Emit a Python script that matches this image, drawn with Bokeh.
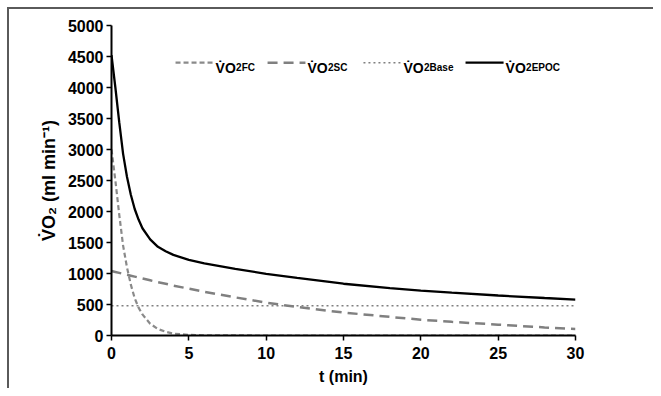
from bokeh.plotting import figure
from bokeh.embed import file_html
from bokeh.resources import INLINE
from bokeh.models import Range1d, FixedTicker
from bokeh.core.properties import value

# ---- data ----
t_min = [0, 0.25, 0.5, 0.75, 1, 1.25, 1.5, 1.75, 2, 2.5, 3, 3.5, 4, 5, 6, 8,
         10, 12, 15, 18, 20, 22, 25, 28, 30]
vo2_fc = [3000, 2500, 1950, 1450, 1100, 820, 600, 450, 340, 190, 105, 60, 30,
          10, 4, 1, 0, 0, 0, 0, 0, 0, 0, 0, 0]
vo2_sc = [1040, 1025, 1010, 995, 980, 965, 950, 935, 920, 890, 860, 835, 805,
          755, 705, 615, 530, 460, 370, 300, 255, 220, 175, 130, 105]
vo2_base = [480] * len(t_min)
vo2_epoc = [4520, 4000, 3440, 2930, 2560, 2270, 2040, 1870, 1730, 1550, 1430,
            1360, 1300, 1220, 1165, 1075, 995, 930, 835, 765, 725, 690, 645,
            605, 580]

x_ticks = [0, 5, 10, 15, 20, 25, 30]
y_ticks = [0, 500, 1000, 1500, 2000, 2500, 3000, 3500, 4000, 4500, 5000]

series_names = ["FC", "SC", "Base", "EPOC"]
series_data = [vo2_fc, vo2_sc, vo2_base, vo2_epoc]

# ---- styles ----
styles = {
    "FC": dict(line_color="#8a8a8a", line_width=2.2, line_dash="5 3"),
    "SC": dict(line_color="#808080", line_width=2.5, line_dash="10 6"),
    "Base": dict(line_color="#808080", line_width=1.6, line_dash="2 3"),
    "EPOC": dict(line_color="#000000", line_width=2.3, line_dash="solid"),
}
# legend key start/end (x, data units) and y level (layout only)
legend_x0 = [4.14, 10.09, 16.29, 22.89]
legend_x1 = [6.60, 12.54, 18.75, 25.35]
legend_y = 4400

FONT = "Liberation Sans"

p = figure(width=653, height=388, output_backend="svg", toolbar_location=None,
           x_range=Range1d(0, 30), y_range=Range1d(0, 5000),
           min_border_left=111, min_border_right=78, min_border_top=25,
           min_border_bottom=53)
p.outline_line_color = None
p.grid.grid_line_color = None
p.background_fill_color = "white"
p.border_fill_color = None
# image frame (top and left edges visible in the reference), drawn as CSS background
LINE = "#5a5a5a"
p.styles = {
    "background-color": "white",
    "background-image": ", ".join([
        "linear-gradient(to bottom, white 7px, transparent 7px)",
        "linear-gradient(to right, white 7px, transparent 7px)",
        f"linear-gradient(to right, transparent 7px, {LINE} 7px, {LINE} 9px, transparent 9px)",
        f"linear-gradient(to bottom, transparent 7px, {LINE} 7px, {LINE} 9px, transparent 9px)",
    ]),
}

# draw order: base, SC, FC, EPOC
for name in ["Base", "SC", "FC", "EPOC"]:
    i = series_names.index(name)
    p.line(t_min, series_data[i], **styles[name])

# legend
for i, name in enumerate(series_names):
    p.line([legend_x0[i], legend_x1[i]], [legend_y, legend_y], **styles[name])
    p.text([legend_x1[i]], [legend_y], text=["V\u0307O"], x_offset=2, y_offset=5,
           text_font=value(FONT), text_font_style="bold", text_font_size="14px",
           text_baseline="alphabetic", text_align="left", text_color="black")
    p.text([legend_x1[i]], [legend_y], text=["2" + name], x_offset=22.5, y_offset=5,
           text_font=value(FONT), text_font_style="bold", text_font_size="10px",
           text_baseline="alphabetic", text_align="left", text_color="black")

for ax in (p.xaxis[0], p.yaxis[0]):
    ax.axis_line_color = "black"
    ax.axis_line_width = 2
    ax.major_tick_line_color = "black"
    ax.major_tick_line_width = 1.5
    ax.major_tick_out = 5
    ax.major_tick_in = 0
    ax.minor_tick_line_color = None
    ax.major_label_text_font = FONT
    ax.major_label_text_font_style = "bold"
    ax.major_label_text_font_size = "16px"
    ax.major_label_text_color = "black"
    ax.axis_label_text_font = FONT
    ax.axis_label_text_font_style = "bold"
    ax.axis_label_text_color = "black"

p.xaxis.ticker = FixedTicker(ticks=x_ticks)
p.yaxis.ticker = FixedTicker(ticks=y_ticks)
p.xaxis.axis_label = "t (min)"
p.yaxis.axis_label = "V\u0307O\u2082 (ml min\u207b\u00b9)"
p.xaxis.axis_label_text_font_size = "16px"
p.yaxis.axis_label_text_font_size = "18px"
p.xaxis.major_label_standoff = 6
p.yaxis.major_label_standoff = 3
p.xaxis.axis_label_standoff = 6
p.yaxis.axis_label_standoff = 6

open("out.html", "w").write(file_html(p, INLINE))
